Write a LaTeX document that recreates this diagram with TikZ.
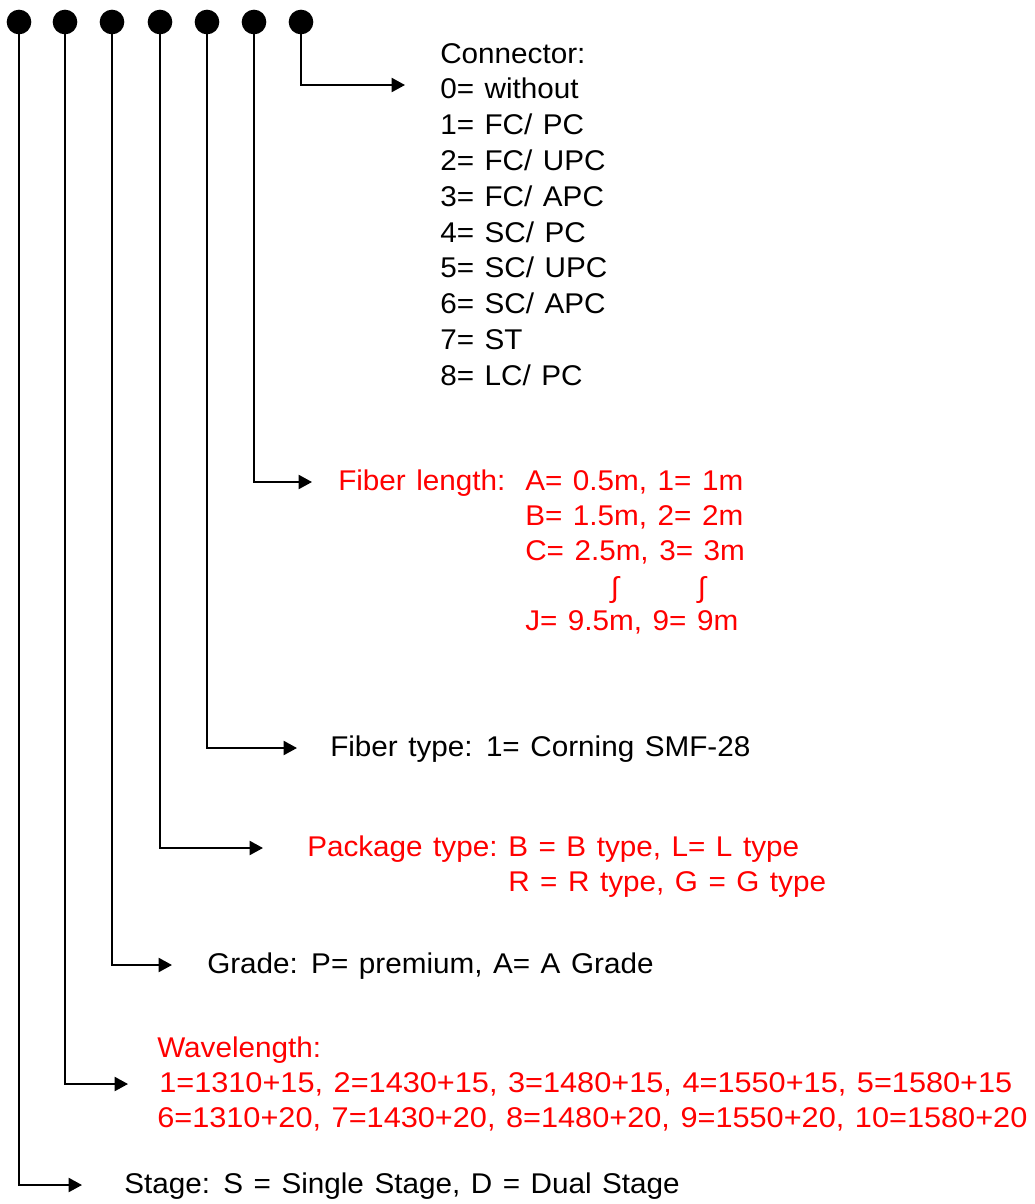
\documentclass[tikz,border=0pt]{standalone}
\usepackage{fontspec}
\setmainfont{Liberation Sans}[FakeStretch=1.04]
\newfontfamily\widefont{Liberation Sans}[FakeStretch=1.076]
\usepackage{xcolor}
\usetikzlibrary{arrows.meta, positioning}

% label fonts (slightly wide word spacing as in the reference)
\newcommand{\lblfont}{\fontsize{21.4pt}{27pt}\selectfont\spaceskip 7.9pt\relax}
\newcommand{\widelblfont}{\fontsize{21.4pt}{27pt}\widefont\spaceskip 7.9pt\relax}

\begin{document}
\begin{tikzpicture}[
    x=0.75pt, y=-0.75pt,
    >={Triangle[length=10pt, width=10.5pt]},
    dot/.style={circle, fill=black, inner sep=0pt, minimum size=18.5pt},
    arrow/.style={->, line width=1.5pt},
    lbl/.style={anchor=base west, inner sep=0pt, font=\lblfont, text=#1},
    lbl/.default=black,
    wide/.style={font=\widelblfont}
]

\useasboundingbox (0,0) rectangle (1035,1204);

% === CODE DOTS ===
\foreach \x [count=\i] in {19,65,112,160,207,254,301}
    \node[dot] (d\i) at (\x,22) {};

% === Connector ===
\foreach \txt [count=\k from 0] in {Connector:, 0= without, 1= FC/ PC, 2= FC/ UPC, 3= FC/ APC, 4= SC/ PC, 5= SC/ UPC, 6= SC/ APC, 7= ST, 8= LC/ PC}
    \node[lbl] (conn\k) at (440, 63+35.8*\k) {\txt};

% === Fiber length ===
\node[lbl=red] (flen) at (338,490) {Fiber length:};
\node[lbl=red] (flenA) at (525,490) {A= 0.5m, 1= 1m};
\node[lbl=red] (flenB) at (525,525) {B= 1.5m, 2= 2m};
\node[lbl=red] (flenC) at (525,560) {C= 2.5m, 3= 3m};
\node[lbl=red, anchor=base] (intA) at (615,597) {∫};
\node[lbl=red, anchor=base] (intB) at (702,597) {∫};
\node[lbl=red] (flenJ) at (525,630) {J= 9.5m, 9= 9m};

% === Fiber type ===
\node[lbl] (ftype) at (330,756) {Fiber type: 1= Corning SMF-28};

% === Package type ===
\node[lbl=red] (pack) at (307,856) {Package type:};
\node[lbl=red] (packB) at (508,856) {B = B type, L= L type};
\node[lbl=red] (packR) at (508,891) {R = R type, G = G type};

% === Grade ===
\node[lbl] (grade) at (207,973) {Grade: P= premium, A= A Grade};

% === Wavelength ===
\node[lbl=red] (wave) at (157,1057) {Wavelength:};
\node[lbl=red, wide] (wave1) at (159,1092) {1=1310+15, 2=1430+15, 3=1480+15, 4=1550+15, 5=1580+15};
\node[lbl=red, wide] (wave2) at (157,1127) {6=1310+20, 7=1430+20, 8=1480+20, 9=1550+20, 10=1580+20};

% === Stage ===
\node[lbl] (stage) at (124,1193) {Stage: S = Single Stage, D = Dual Stage};

% === ARROWS ===
\foreach \i/\x/\y in {1/82/1185, 2/128/1084, 3/172/965, 4/263/848, 5/297/748, 6/312/482, 7/405/85} {
    \coordinate (t\i) at (\x,\y);
    \draw[arrow] (d\i.center) |- (t\i);
}

\end{tikzpicture}
\end{document}
